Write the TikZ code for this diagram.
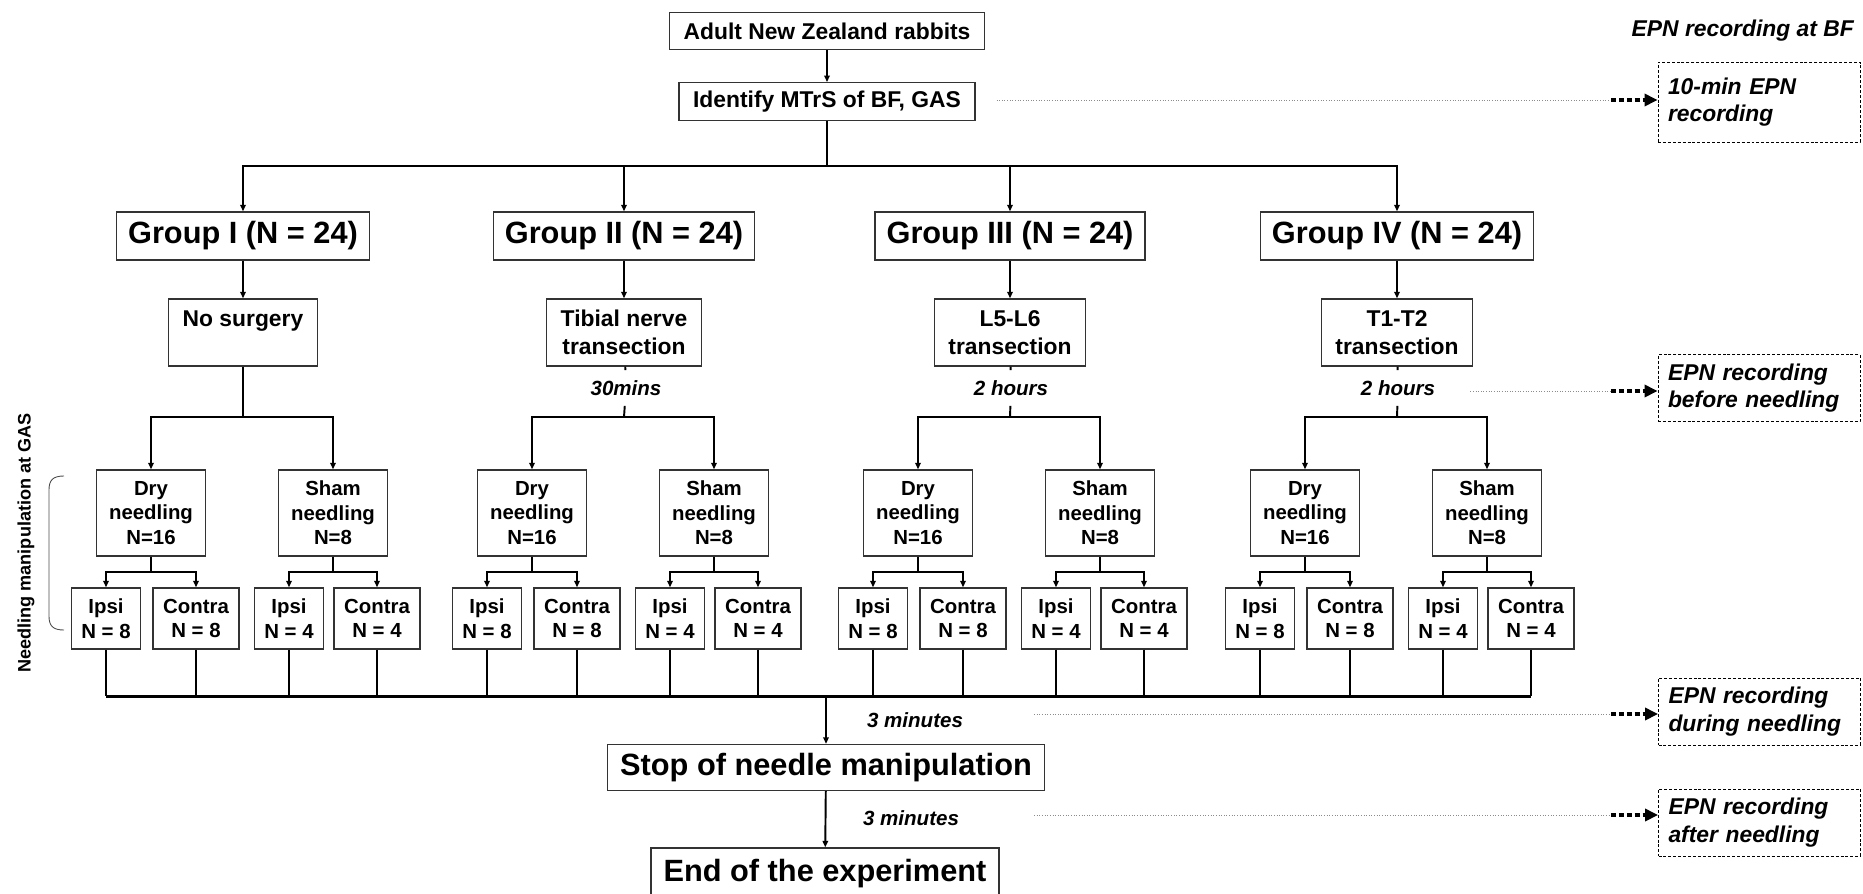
\documentclass[tikz,border=0pt]{standalone}
\usepackage{fontspec}
\setmainfont{Liberation Sans}
\usetikzlibrary{positioning, arrows.meta}

\begin{document}
\begin{tikzpicture}[
  x=0.02cm, y=-0.02cm,
  font=\bfseries,
  >={Triangle[length=1.3mm, width=1.1mm]},
  box/.style={draw=black!80, line width=0.8pt, align=center},
  topbox/.style={box, font=\fontsize{13}{15}\selectfont\bfseries, inner xsep=0.28cm, minimum height=0.75cm},
  grpbox/.style={box, font=\fontsize{17.5}{20}\selectfont\bfseries, inner xsep=0.23cm, minimum height=0.96cm},
  surgbox/.style={box, font=\fontsize{13}{16}\selectfont\bfseries, inner xsep=0.28cm, minimum width=2.9cm, minimum height=1.34cm},
  needbox/.style={box, font=\fontsize{11.6}{14}\selectfont\bfseries, inner xsep=0.1cm, minimum width=2.18cm, minimum height=1.72cm},
  leafbox/.style={box, font=\fontsize{11.6}{14}\selectfont\bfseries, inner xsep=0.2cm, minimum height=1.22cm},
  endbox/.style={box, font=\fontsize{17.5}{20}\selectfont\bfseries, inner xsep=0.25cm, minimum height=0.92cm},
  epnbox/.style={draw, line width=0.5pt, dash pattern=on 1.7pt off 1.1pt, align=left, text width=3.64cm,
                 inner xsep=0.2cm, minimum height=1.34cm, font=\fontsize{13}{15.5}\selectfont\bfseries\itshape},
  timelbl/.style={font=\fontsize{11.7}{14}\selectfont\bfseries\itshape, inner xsep=1pt, inner ysep=0.2cm},
  conn/.style={line width=1.1pt},
  arr/.style={conn, ->},
  guide/.style={draw=black!45, line width=0.5pt, densely dotted},
  hint/.style={line width=2.2pt, dash pattern=on 2.8pt off 1.7pt, -{Triangle[length=2.6mm, width=2.4mm]}},
]
\useasboundingbox (0,0) rectangle (1863,893);
% ---- top of the flow ----
\node[topbox] (rabbit) at (827,31) {Adult New Zealand rabbits};
\node[topbox] (mtrs) at (827,101.5) {Identify MTrS of BF, GAS};
\coordinate (split) at (827,166);
% ---- groups and surgery ----
\node[grpbox] (g1) at (243,236) {Group I (N = 24)};
\node[grpbox] (g2) at (624,236) {Group II (N = 24)};
\node[grpbox] (g3) at (1010,236) {Group III (N = 24)};
\node[grpbox] (g4) at (1397,236) {Group IV (N = 24)};
\node[surgbox] (s1) at (243,332.5) {No surgery\\\mbox{}};
\node[surgbox] (s2) at (624,332.5) {Tibial nerve\\transection};
\node[surgbox] (s3) at (1010,332.5) {L5-L6\\transection};
\node[surgbox] (s4) at (1397,332.5) {T1-T2\\transection};
\node[timelbl] (t2) at (626,388) {30mins};
\node[timelbl] (t3) at (1011,388) {2 hours};
\node[timelbl] (t4) at (1398,388) {2 hours};
% ---- arrows, top part ----
\draw[arr] (rabbit) -- (mtrs);
\draw[conn] (mtrs) -- (split);
\foreach \k in {1,...,4} {
  \draw[arr] (split) -| (g\k);
  \draw[arr] (g\k) -- (s\k);
}
% ---- needling blocks ----
\foreach \k/\c in {1/243, 2/624, 3/1010, 4/1397} {
  \node[needbox] (d\k) at (\c-92,513) {Dry\\needling\\N=16};
  \node[needbox] (h\k) at (\c+90,513) {Sham\\needling\\N=8};
  \node[leafbox] (di\k) at (\c-137,618.5) {Ipsi\\N = 8};
  \node[leafbox] (dc\k) at (\c-47,618.5) {Contra\\N = 8};
  \node[leafbox] (hi\k) at (\c+46,618.5) {Ipsi\\N = 4};
  \node[leafbox] (hc\k) at (\c+134,618.5) {Contra\\N = 4};
  \coordinate (b\k) at (\c,417);
  \coordinate (dj\k) at (\c-92,572);
  \coordinate (hj\k) at (\c+90,572);
  \draw[arr] (b\k) -| (d\k);
  \draw[arr] (b\k) -| (h\k);
  \draw[conn] (d\k) -- (dj\k);
  \draw[conn] (h\k) -- (hj\k);
  \draw[arr] (dj\k) -| (di\k);
  \draw[arr] (dj\k) -| (dc\k);
  \draw[arr] (hj\k) -| (hi\k);
  \draw[arr] (hj\k) -| (hc\k);
}
\draw[conn] (s1) -- (b1);
\draw[conn] (s2) -- (t2) (t2) -- (b2);
\draw[conn] (s3) -- (t3) (t3) -- (b3);
\draw[conn] (s4) -- (t4) (t4) -- (b4);
% ---- end of the flow ----
\coordinate (join) at (826,696);
\node[endbox] (stop) at (826,767.5) {Stop of needle manipulation};
\node[endbox, minimum height=1.04cm] (end) at (825,874) {End of the experiment};
\node[timelbl] (m1) at (915,720) {3 minutes};
\node[timelbl] (m2) at (911,818) {3 minutes};
\foreach \k in {1,...,4} {
  \foreach \n in {di,dc,hi,hc}
    \draw[conn] (\n\k) -- (\n\k |- join);
}
\draw[line width=1.7pt] (di1 |- join) -- (hc4 |- join);
\draw[arr] (join) -- (stop);
\draw[arr] (stop) -- (end);
% ---- EPN recording notes ----
\node[font=\fontsize{13}{15}\selectfont\bfseries\itshape, anchor=east] (bf) at (1860,31) {EPN recording at BF};
\node[epnbox, minimum height=1.6cm] (e1) at (1759,102) {10-min EPN\\recording};
\node[epnbox] (e2) at (1759,388) {EPN recording\\before needling};
\node[epnbox] (e3) at (1759.5,711.5) {EPN recording\\during needling};
\node[epnbox] (e4) at (1759.5,822.5) {EPN recording\\after needling};
\coordinate (k1) at (1611,100);
\coordinate (k2) at (1611,391);
\coordinate (k3) at (1611,714);
\coordinate (k4) at (1611,815);
\draw[guide, shorten <=0.42cm] (mtrs.east |- k1) -- (k1);
\draw[guide, shorten <=0.66cm] (t4.east |- k2) -- (k2);
\draw[guide, shorten <=1.38cm] (m1.east |- k3) -- (k3);
\draw[guide, shorten <=1.46cm] (m2.east |- k4) -- (k4);
\foreach \k in {1,...,4}
  \draw[hint] (k\k) -- (k\k -| e\k.west);
% ---- GAS side label ----
\node[rotate=90, font=\fontsize{10.3}{12}\selectfont\bfseries] (gas) at (26,543) {Needling manipulation at GAS};
\draw[black!70, line width=0.5pt] (64,476) .. controls (53,476) and (49,480) .. (49,490)
  -- (49,616) .. controls (49,626) and (53,630) .. (64,630);
\end{tikzpicture}
\end{document}
